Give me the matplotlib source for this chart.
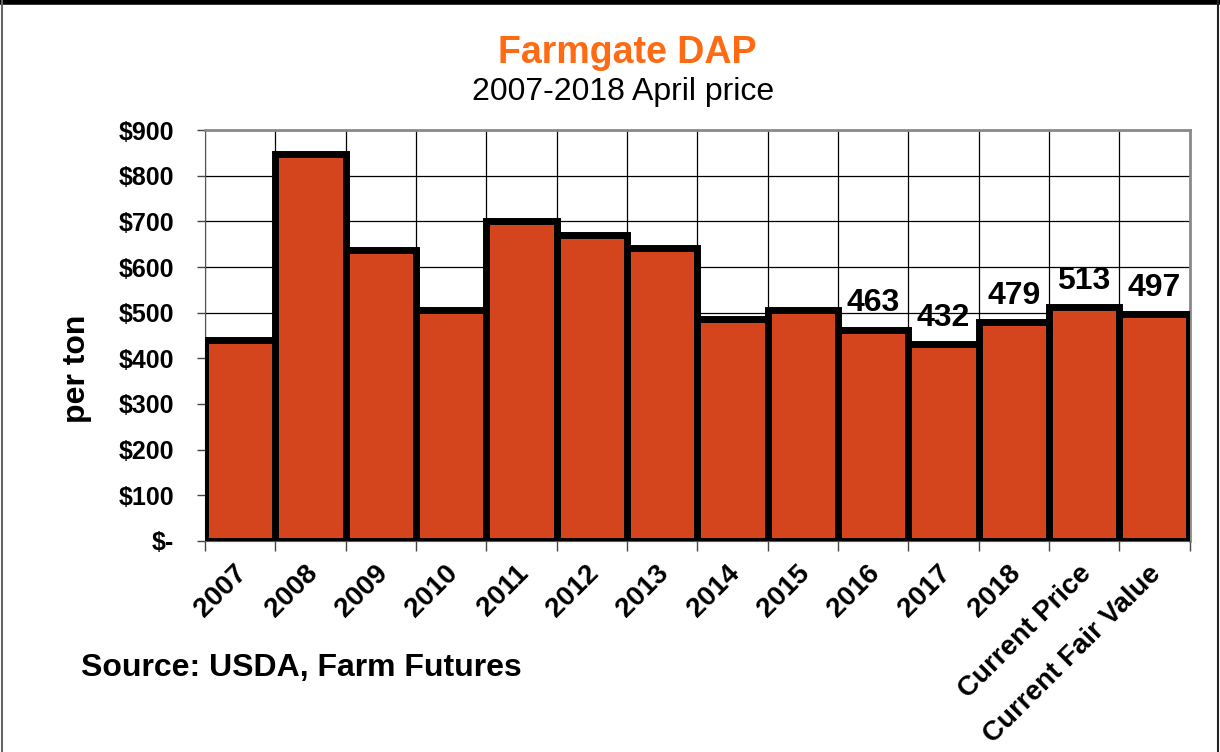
import numpy as np
import matplotlib.pyplot as plt
import matplotlib.transforms as mtransforms
from matplotlib.lines import Line2D

# data
categories = ["2007", "2008", "2009", "2010", "2011", "2012", "2013",
              "2014", "2015", "2016", "2017", "2018",
              "Current Price", "Current Fair Value"]
prices = [441, 847, 637, 505, 701, 671, 641, 486, 506, 463, 432, 479, 513, 497]
labelled = [False] * 9 + [True] * 5
y_ticks = [0, 100, 200, 300, 400, 500, 600, 700, 800, 900]
y_tick_labels = ["$-", "$100", "$200", "$300", "$400", "$500",
                 "$600", "$700", "$800", "$900"]

plt.rcParams['font.family'] = ['Liberation Sans', 'DejaVu Sans']

fig = plt.figure(figsize=(12.2, 7.52), dpi=100)
ax = fig.add_axes([0.168, 0.2806, 0.807, 0.5465])

x = np.arange(len(categories))
ax.bar(x, prices, width=1.0, color='#D4451E', edgecolor='black',
       linewidth=5, zorder=3)

for xi, v, show in zip(x, prices, labelled):
    if show:
        ax.annotate(str(v), (xi, v), xytext=(0, 8), textcoords='offset points',
                    ha='center', va='bottom', fontsize=23, fontweight='bold',
                    zorder=4)

ax.set_xlim(-0.5, len(categories) - 0.5)
ax.set_ylim(0, 900)

# y axis
ax.set_yticks(y_ticks)
ax.set_yticklabels(y_tick_labels, fontsize=18, fontweight='bold')
ax.tick_params(axis='y', length=6, width=1, color='#444444', pad=16, direction='out')
ax.yaxis.grid(True, color='black', linewidth=0.9, zorder=0)

# x axis: labels at centers, ticks + grid at boundaries
ax.set_xticks(x)
ax.set_xticklabels(categories, fontsize=20, fontweight='bold', rotation=45,
                   ha='right', va='top', rotation_mode='anchor')
ax.tick_params(axis='x', which='major', length=0, pad=14)
shift = mtransforms.ScaledTranslation(-6 / 100, 0, fig.dpi_scale_trans)
for lab in ax.get_xticklabels():
    lab.set_transform(lab.get_transform() + shift)
ax.set_xticks(np.arange(len(categories) + 1) - 0.5, minor=True)
ax.tick_params(axis='x', which='minor', length=7, width=1, color='#444444', direction='out')
ax.xaxis.grid(True, which='minor', color='black', linewidth=0.9, zorder=0)
ax.xaxis.grid(False, which='major')
ax.set_axisbelow(True)

for side in ['top', 'right']:
    ax.spines[side].set_color('#8a8a8a')
    ax.spines[side].set_linewidth(2)
ax.spines['left'].set_color('#555555')
ax.spines['bottom'].set_color('#555555')

ax.set_ylabel("per ton", fontsize=23, fontweight='bold')
ax.yaxis.set_label_coords(-0.115, 0.42)

fig.text(0.514, 0.929, "Farmgate DAP", color='#FF6A13', fontsize=27,
         fontweight='bold', ha='center', va='center')
fig.text(0.511, 0.877, "2007-2018 April price", fontsize=23,
         ha='center', va='center')
fig.text(0.066, 0.112, "Source: USDA, Farm Futures", fontsize=23,
         fontweight='bold', ha='left', va='center')

# outer frame of the original picture
fig.add_artist(Line2D([0, 1], [0.997, 0.997], transform=fig.transFigure,
                      color='black', linewidth=4))
fig.add_artist(Line2D([0.002, 0.002], [0, 1], transform=fig.transFigure,
                      color='#666666', linewidth=1.5))
fig.add_artist(Line2D([0.998, 0.998], [0, 1], transform=fig.transFigure,
                      color='#222222', linewidth=1.5))

fig.savefig("out.png", dpi=100)
